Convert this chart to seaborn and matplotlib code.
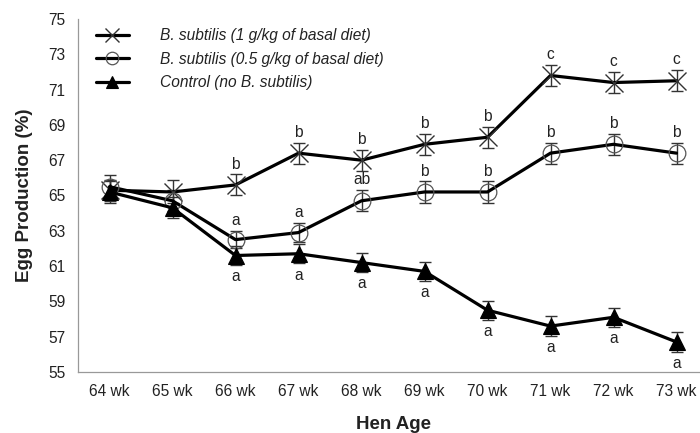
import matplotlib
matplotlib.use('Agg')
import matplotlib.pyplot as plt
import seaborn as sns
import pandas as pd
import numpy as np

weeks = ['64 wk', '65 wk', '66 wk', '67 wk', '68 wk', '69 wk', '70 wk', '71 wk', '72 wk', '73 wk']
bs_1g = [65.3, 65.2, 65.6, 67.4, 67.0, 67.9, 68.3, 71.8, 71.4, 71.5]
bs_05g = [65.5, 64.7, 62.5, 62.9, 64.7, 65.2, 65.2, 67.4, 67.9, 67.4]
control = [65.2, 64.3, 61.6, 61.7, 61.2, 60.7, 58.5, 57.6, 58.1, 56.7]
err_1g = [0.6, 0.65, 0.6, 0.6, 0.6, 0.6, 0.6, 0.6, 0.6, 0.6]
err_05g = [0.65, 0.6, 0.5, 0.55, 0.6, 0.6, 0.6, 0.6, 0.6, 0.6]
err_ctrl = [0.6, 0.6, 0.55, 0.55, 0.55, 0.55, 0.55, 0.55, 0.55, 0.55]
letters_1g = ['', '', 'b', 'b', 'b', 'b', 'b', 'c', 'c', 'c']
letters_05g = ['', '', 'a', 'a', 'ab', 'b', 'b', 'b', 'b', 'b']
letters_ctrl = ['', '', 'a', 'a', 'a', 'a', 'a', 'a', 'a', 'a']
labels = ['B. subtilis (1 g/kg of basal diet)',
          'B. subtilis (0.5 g/kg of basal diet)',
          'Control (no B. subtilis)']
yticks = [55, 57, 59, 61, 63, 65, 67, 69, 71, 73, 75]

sns.set_theme(style='white')
plt.rcParams['font.family'] = ['Liberation Sans', 'DejaVu Sans']

fig = plt.figure(figsize=(7, 4.33), dpi=100)
ax = fig.add_axes([78/700, (433-372)/433, (708-78)/700, (372-19)/433])

x = np.arange(len(weeks))
df = pd.DataFrame({'x': x, 'g1': bs_1g, 'g05': bs_05g, 'ctrl': control})

# error bars
for vals, errs in [(bs_1g, err_1g), (bs_05g, err_05g), (control, err_ctrl)]:
    ax.errorbar(x, vals, yerr=errs, fmt='none', ecolor='#333333', elinewidth=1.0,
                capsize=4, capthick=1.0, zorder=2)

sns.lineplot(data=df, x='x', y='g1', ax=ax, color='black', linewidth=2.3,
             marker='x', markersize=13, markeredgewidth=1.0, markeredgecolor='#333333',
             label=labels[0], zorder=3)
sns.lineplot(data=df, x='x', y='g05', ax=ax, color='black', linewidth=2.3,
             marker='o', markersize=12, markeredgewidth=0.9, markeredgecolor='#555555',
             markerfacecolor='none', label=labels[1], zorder=3)
sns.lineplot(data=df, x='x', y='ctrl', ax=ax, color='black', linewidth=2.3,
             marker='^', markersize=11, markeredgewidth=0.8, markeredgecolor='black',
             markerfacecolor='black', label=labels[2], zorder=4)

fs = 11.2
txtc = '#222222'
# significance letters
for i in range(len(weeks)):
    if letters_1g[i]:
        ax.annotate(letters_1g[i], (x[i], bs_1g[i] + err_1g[i]), xytext=(0, 2),
                    textcoords='offset points', ha='center', va='bottom', fontsize=fs, color=txtc)
    if letters_05g[i]:
        ax.annotate(letters_05g[i], (x[i], bs_05g[i] + err_05g[i]), xytext=(0, 2),
                    textcoords='offset points', ha='center', va='bottom', fontsize=fs, color=txtc)
    if letters_ctrl[i]:
        ax.annotate(letters_ctrl[i], (x[i], control[i] - err_ctrl[i]), xytext=(0, -3),
                    textcoords='offset points', ha='center', va='top', fontsize=fs, color=txtc)

ax.set_xlim(-0.5, 9.5)
ax.set_ylim(55, 75)
ax.set_yticks(yticks)
ax.set_yticklabels([str(v) for v in yticks], fontsize=fs, color=txtc)
ax.set_xticks(np.arange(-0.5, 10, 1.0))
ax.set_xticklabels([])
ax.set_xticks(x, minor=True)
ax.set_xticklabels(weeks, minor=True, fontsize=fs, color=txtc)
ax.tick_params(axis='x', which='major', direction='out', length=5, width=0.8, color='#999999')
ax.tick_params(axis='x', which='minor', length=0, pad=9)
ax.tick_params(axis='y', which='major', direction='out', length=5, width=0.8, color='#999999', pad=4)

for s in ['top', 'right']:
    ax.spines[s].set_visible(False)
for s in ['left', 'bottom']:
    ax.spines[s].set_color('#999999')
    ax.spines[s].set_linewidth(0.9)

ax.set_xlabel('Hen Age', fontsize=13.5, fontweight='bold', labelpad=12, color=txtc)
ax.set_ylabel('Egg Production (%)', fontsize=13.5, fontweight='bold', labelpad=11, color=txtc)

leg = ax.legend(loc='upper left', bbox_to_anchor=(82/700, 1 - 14/433), bbox_transform=fig.transFigure,
                frameon=False, prop={'style': 'italic', 'size': fs}, handlelength=2.1,
                handletextpad=2.0, labelspacing=0.55, markerscale=0.75)
for t in leg.get_texts():
    t.set_color(txtc)

fig.savefig('out.png', dpi=100)
